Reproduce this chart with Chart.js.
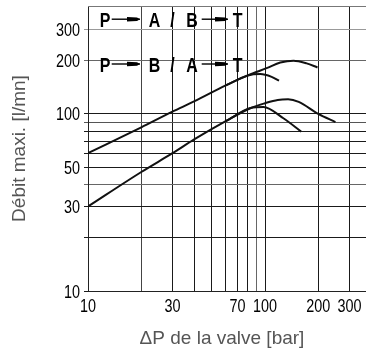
<!DOCTYPE html>
<html>
<head>
<meta charset="utf-8">
<script src="https://cdn.jsdelivr.net/npm/chart.js@4.4.1/dist/chart.umd.min.js"></script>
<style>
html,body{margin:0;padding:0;background:#fff;}
#wrap{width:366px;height:350px;position:relative;}
</style>
</head>
<body>
<div id="wrap"><canvas id="c"></canvas></div>
<script>
// ---- data ----
const xGridValues = [10, 20, 30, 40, 50, 60, 70, 80, 90, 100, 200, 300];
const yGridValues = [10, 20, 30, 40, 50, 60, 70, 80, 90, 100, 200, 300];
const xTickLabels = [10, 30, 70, 100, 200, 300];
const yTickLabels = [10, 30, 50, 100, 200, 300];

const upperMainX = [10, 20, 30, 40, 60, 80, 103, 122, 145, 172, 198];
const upperMainY = [60, 84, 103, 118, 145, 165, 182, 195, 200, 193, 183];
const upperBranchX = [60, 80, 94, 109, 120];
const upperBranchY = [145, 165, 168, 162, 154];

const lowerMainX = [10, 20, 30, 40, 60, 83, 100, 118, 135, 155, 200, 250];
const lowerMainY = [30, 47, 60, 72, 91, 108, 115, 120, 121, 117, 100, 90];
const lowerBranchX = [60, 83, 98, 127, 160];
const lowerBranchY = [91, 108, 109.5, 94.5, 79.5];

const labelRowTop = ['P', '→', 'A', '/', 'B', '→', 'T'];
const labelRowBottom = ['P', '→', 'B', '/', 'A', '→', 'T'];

const xTitle = 'ΔP de la valve [bar]';
const yTitle = 'Débit maxi. [l/mn]';

// ---- helpers ----
const pts = (xs, ys) => xs.map((x, i) => ({x: x, y: ys[i]}));
const curveStyle = {
  borderColor: '#111', borderWidth: 2, pointRadius: 0, fill: false,
  cubicInterpolationMode: 'monotone'
};

const gridColorX = {20: '#444', 90: '#666'};
const gridColorY = {300: '#999', 200: '#666', 40: '#666', 90: '#555'};

// token x-offsets (px from left of plot area) for annotation rows
const tokenPos = [17, [23.7, 52], 66.5, 84.5, 104, [113.7, 140], 149.5];

const annotationPlugin = {
  id: 'annot',
  beforeDatasetsDraw(chart) {
    const {ctx, chartArea} = chart;
    ctx.save();
    ctx.strokeStyle = '#777';
    ctx.lineWidth = 1;
    ctx.beginPath();
    ctx.moveTo(chartArea.left, chartArea.top + 0.5);
    ctx.lineTo(chartArea.right, chartArea.top + 0.5);
    ctx.stroke();
    ctx.restore();
  },
  afterDatasetsDraw(chart) {
    const {ctx, chartArea} = chart;
    const xs = chart.scales.x, ys = chart.scales.y;
    ctx.save();
    // tick labels (condensed digits), placed through the scales
    ctx.fillStyle = '#000';
    ctx.font = '18px "Liberation Sans", Arial, sans-serif';
    ctx.textBaseline = 'alphabetic';
    xTickLabels.forEach(v => {
      ctx.save();
      ctx.translate(xs.getPixelForValue(v), chartArea.bottom + 20.5);
      ctx.scale(0.8, 1);
      ctx.textAlign = 'center';
      ctx.fillText(String(v), 0, 0);
      ctx.restore();
    });
    yTickLabels.forEach(v => {
      ctx.save();
      ctx.translate(chartArea.left - 8, ys.getPixelForValue(v) + 6.5);
      ctx.scale(0.8, 1);
      ctx.textAlign = 'right';
      ctx.fillText(String(v), 0, 0);
      ctx.restore();
    });

    // x axis title
    ctx.save();
    ctx.fillStyle = '#555';
    ctx.font = '19px "Liberation Sans", Arial, sans-serif';
    ctx.textAlign = 'center';
    ctx.fillText(xTitle, chartArea.left + 134, 344);
    ctx.restore();

    // in-plot annotation rows
    const rows = [[labelRowTop, chartArea.top + 20.7], [labelRowBottom, chartArea.top + 65.5]];
    ctx.strokeStyle = '#000';
    ctx.fillStyle = '#000';
    rows.forEach(([row, base]) => {
      row.forEach((tok, i) => {
        const p = tokenPos[i];
        if (tok === '→') {
          const x1 = chartArea.left + p[0], x2 = chartArea.left + p[1];
          const yc = base - 7.5;
          ctx.lineWidth = 1.4;
          ctx.beginPath(); ctx.moveTo(x1, yc); ctx.lineTo(x2, yc); ctx.stroke();
          ctx.beginPath();
          ctx.moveTo(x2 - 13, yc - 2.3);
          ctx.lineTo(x2 - 3, yc - 1.7);
          ctx.lineTo(x2, yc);
          ctx.lineTo(x2 - 3, yc + 1.7);
          ctx.lineTo(x2 - 13, yc + 2.3);
          ctx.closePath();
          ctx.fill();
        } else {
          const cx = chartArea.left + p;
          ctx.save();
          ctx.translate(cx, base);
          ctx.scale(0.76, 1);
          ctx.font = 'bold 21px "Liberation Sans", Arial, sans-serif';
          ctx.textAlign = 'center';
          ctx.textBaseline = 'alphabetic';
          ctx.fillText(tok, 0, 0);
          ctx.restore();
        }
      });
    });
    ctx.restore();
  }
};

const titleFont = {family: '"Liberation Sans", Arial, sans-serif', size: 19};

new Chart(document.getElementById('c'), {
  type: 'line',
  data: {
    datasets: [
      Object.assign({data: pts(upperMainX, upperMainY)}, curveStyle),
      Object.assign({data: pts(upperBranchX, upperBranchY)}, curveStyle),
      Object.assign({data: pts(lowerMainX, lowerMainY)}, curveStyle),
      Object.assign({data: pts(lowerBranchX, lowerBranchY)}, curveStyle)
    ]
  },
  options: {
    responsive: true,
    maintainAspectRatio: false,
    animation: false,
    layout: {padding: {top: 6, right: 0, bottom: 0, left: 0}},
    plugins: {legend: {display: false}, tooltip: {enabled: false}},
    scales: {
      x: {
        type: 'logarithmic',
        min: 10, max: 372,
        afterBuildTicks: s => { s.ticks = xGridValues.map(v => ({value: v})); },
        afterFit: s => { s.height = 59; s.paddingLeft = 0; s.paddingRight = 0; },
        grid: {
          color: c => gridColorX[c.tick && c.tick.value] || '#1a1a1a',
          lineWidth: 1, drawTicks: false
        },
        border: {display: true, color: '#222', width: 1},
        ticks: {display: false, autoSkip: false, maxRotation: 0},
        title: {display: false, text: xTitle}
      },
      y: {
        type: 'logarithmic',
        min: 10, max: 407,
        afterBuildTicks: s => { s.ticks = yGridValues.map(v => ({value: v})); },
        afterFit: s => { s.width = 88; s.paddingTop = 0; s.paddingBottom = 0; },
        grid: {
          color: c => gridColorY[c.tick && c.tick.value] || '#1a1a1a',
          lineWidth: 1, drawTicks: true, tickLength: 4
        },
        border: {display: true, color: '#222', width: 1},
        ticks: {display: false, autoSkip: false},
        title: {display: true, text: yTitle, color: '#555', font: titleFont, padding: {top: 8, bottom: 0}}
      }
    }
  },
  plugins: [annotationPlugin]
});
</script>
</body>
</html>
